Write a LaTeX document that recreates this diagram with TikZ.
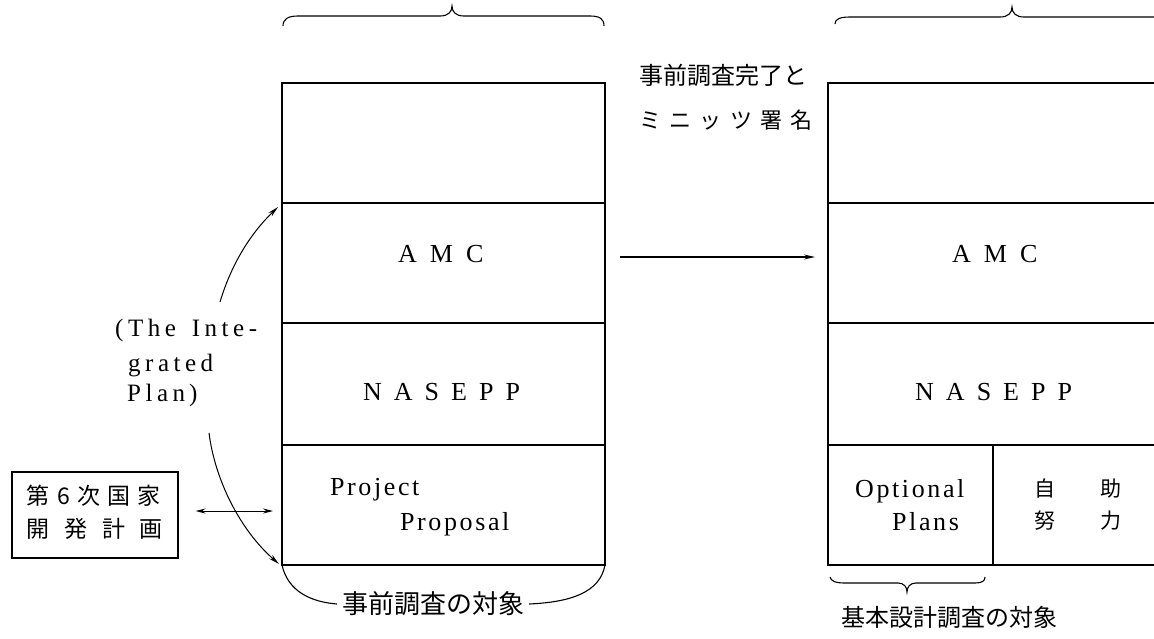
\documentclass[tikz,border=0pt]{standalone}
\usepackage{fontspec}
\setmainfont{Liberation Serif}
\newfontfamily\jp{Noto Sans CJK JP}
\newfontfamily\lat[LetterSpace=10]{Liberation Serif}
\newfontfamily\latw[LetterSpace=18]{Liberation Serif}
\usetikzlibrary{arrows.meta}
\tikzset{
  cell/.style={draw, line width=1.2pt, minimum height=120pt, inner sep=0pt, outer sep=0pt},
  wide/.style={cell, minimum width=323pt},
  rwide/.style={cell, minimum width=330pt},
  half/.style={cell, minimum width=165pt},
  latn/.style={font=\lat\fontsize{26pt}{30pt}\selectfont, inner sep=0pt},
  latlab/.style={font=\latw\fontsize{25pt}{29pt}\selectfont, inner sep=0pt, anchor=base west},
  jtext/.style={font=\jp\fontsize{24pt}{28pt}\selectfont, inner sep=0pt},
  brace/.style={line width=1.1pt},
  conn/.style={line width=1pt, -{Stealth[length=11pt,width=5pt]}},
  dconn/.style={line width=1pt, {Stealth[length=10pt,width=5pt]}-{Stealth[length=10pt,width=5pt]}},
}
\begin{document}
\begin{tikzpicture}[x=1pt,y=-1pt]
\useasboundingbox (0,0) rectangle (1154,638);
\clip (0,0) rectangle (1154,638);

% left column
\node[wide] (L1) at (443.5,143) {};
\node[wide] (L2) at (443.5,263) {};
\node[wide, minimum height=122pt] (L3) at (443.5,384) {};
\node[wide] (L4) at (443.5,505) {};

% right column
\node[rwide] (R1) at (993,143) {};
\node[rwide] (R2) at (993,263) {};
\node[rwide, minimum height=122pt] (R3) at (993,384) {};
\node[half] (R4a) at (910.5,505) {};
\node[half] (R4b) at (1075.5,505) {};

% texts in left column
\node[latn, anchor=base west] (tA1) at (398,262) {A\hskip13pt M\hskip13pt C};
\node[latn, anchor=base west] (tN1) at (363,400) {N\hskip12pt A\hskip12pt S\hskip12pt E\hskip12pt P\hskip12pt P};
\node[latn, anchor=base west] (tP1) at (330,495) {Project};
\node[latn, anchor=base west] (tP2) at (400,530) {Proposal};

% texts in right column
\node[latn, anchor=base west] (tA2) at (952,262) {A\hskip13pt M\hskip13pt C};
\node[latn, anchor=base west] (tN2) at (915,400) {N\hskip12pt A\hskip12pt S\hskip12pt E\hskip12pt P\hskip12pt P};
\node[latn, anchor=base west] (tO1) at (855,497) {Optional};
\node[latn, anchor=base west] (tO2) at (892,530) {Plans};
\node[jtext, font=\jp\fontsize{21pt}{25pt}\selectfont] (tJ1) at (1078,489) {\makebox[87pt][s]{自 助}};
\node[jtext, font=\jp\fontsize{21pt}{25pt}\selectfont] (tJ2) at (1078,521) {\makebox[87pt][s]{努 力}};

% top braces
\draw[brace] (283,26) .. controls (283,19) and (288,16) .. (298,16) -- (440,16)
  .. controls (448,16) and (452,12) .. (452,6) .. controls (452,12) and (456,16) .. (464,16)
  -- (590,16) .. controls (600,16) and (604,19) .. (604,26);
\draw[brace] (835,24) .. controls (835,19) and (840,17) .. (850,17) -- (1000,17)
  .. controls (1008,17) and (1012,13) .. (1012,7) .. controls (1012,13) and (1016,17) .. (1024,17)
  -- (1175,17) .. controls (1185,17) and (1189,19) .. (1189,24);

% middle label and arrow
\node[jtext] (m1) at (723,75) {事前調査完了と};
\node[jtext, font=\jp\fontsize{22pt}{26pt}\selectfont] (m2) at (726,120) {\makebox[173pt][s]{ミ ニ ッ ツ 署 名}};
\draw[conn, line width=1.3pt, shorten <=15pt, shorten >=13pt] ([yshift=6pt]L2.east) -- ([yshift=6pt]R2.west);

% left side label
\node[latlab] (p1) at (115,336) {(The\hskip16pt Inte-};
\node[latlab] (p2) at (128,371) {grated};
\node[latlab] (p3) at (127,401) {Plan\hskip4pt)};
\coordinate (a1) at (220,302);
\coordinate (a2) at (209,433);
\draw[conn] (a1) .. controls (232,262) and (252,232) .. ([shift={(-4pt,-4pt)}]L2.north west);
\draw[conn] (a2) .. controls (215,480) and (240,530) .. ([shift={(-3pt,1pt)}]L4.south west);

% national plan box
\node[draw, line width=1.1pt, minimum width=166pt, minimum height=86pt, inner sep=0pt] (B) at (95,515) {};
\node[jtext, font=\jp\fontsize{23pt}{27pt}\selectfont] (b1) at (94,496) {\makebox[134pt][s]{第 6 次 国 家}};
\node[jtext, font=\jp\fontsize{23pt}{27pt}\selectfont] (b2) at (95,529) {\makebox[136pt][s]{開 発 計 画}};
\draw[dconn, shorten <=17pt, shorten >=9pt] ([yshift=4pt]B.east) -- ([yshift=-6pt]L4.west);

% bottom left
\node[jtext, font=\jp\fontsize{26pt}{30pt}\selectfont, inner sep=5pt] (T1) at (433,604) {事前調査の対象};
\draw[brace] (L4.south west) .. controls (288,592) and (312,602) .. (T1.west);
\draw[brace] (T1.east) .. controls (572,602) and (600,592) .. (L4.south east);

% bottom right
\draw[brace] (830,577) .. controls (831,581) and (835,583) .. (845,583) -- (898,583)
  .. controls (904,583) and (907,587) .. (907,592) .. controls (907,587) and (910,583) .. (916,583)
  -- (975,583) .. controls (982,583) and (985,581) .. (985,577);
\node[jtext] (T2) at (949,617) {基本設計調査の対象};
\end{tikzpicture}
\end{document}
